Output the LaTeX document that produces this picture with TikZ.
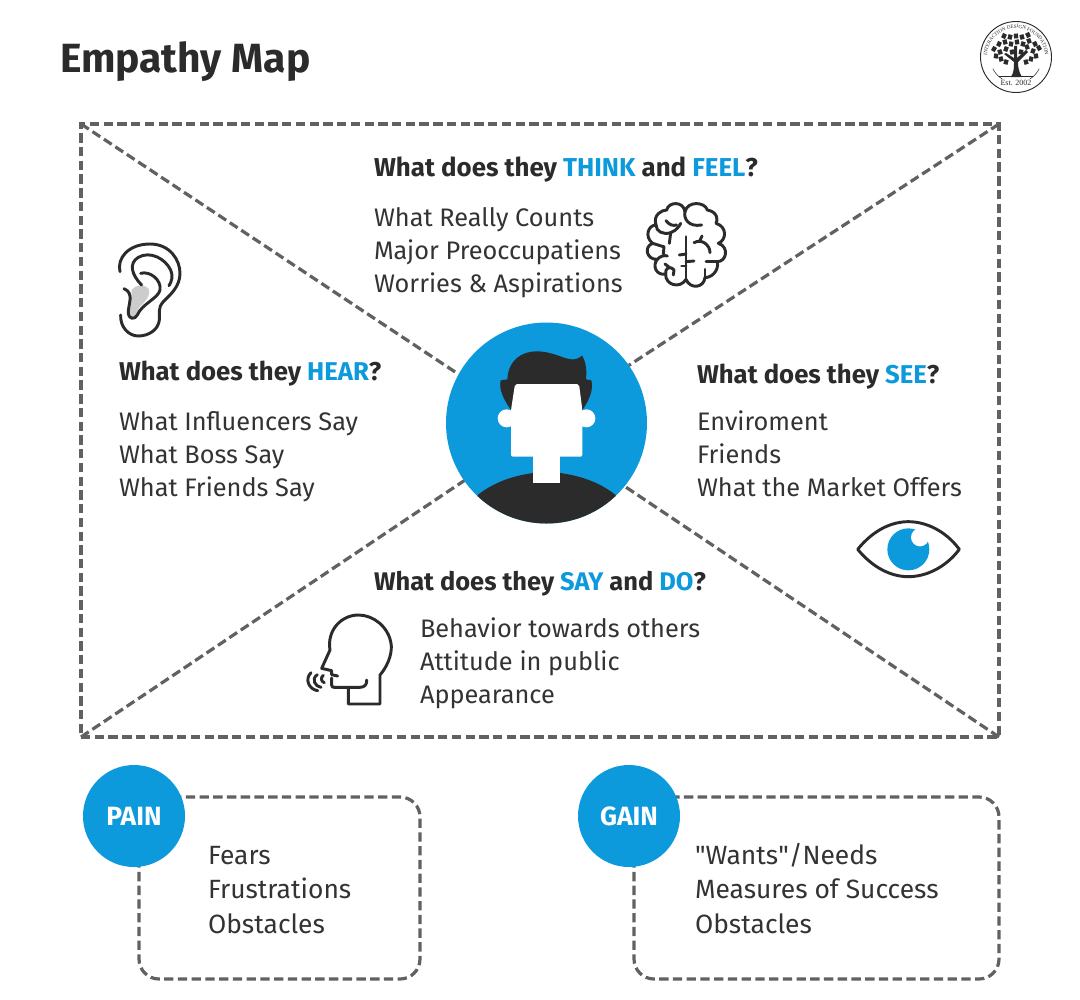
\documentclass[tikz,border=0pt]{standalone}
\usepackage{fontspec}
\setmainfont{Fira Sans}
\newfontfamily\plainfont{Fira Sans}
\newfontfamily\logofont{Liberation Serif}
\usetikzlibrary{decorations.text}
\definecolor{mapblue}{HTML}{0D9ADC}
\definecolor{mapdark}{HTML}{2B2B2B}
\definecolor{mapdash}{HTML}{616161}
\definecolor{maptext}{HTML}{333333}
\newcommand{\hl}[1]{\textcolor{mapblue}{#1}}
\tikzset{
  dashline/.style={draw=mapdash,line width=2.4pt,dash pattern=on 7pt off 3.3pt},
  headtxt/.style={anchor=base west,inner sep=0pt,outer sep=0pt,text=mapdark,font=\fontsize{19.3}{23}\selectfont\bfseries},
  bodytxt/.style={anchor=base west,inner sep=0pt,outer sep=0pt,align=left,text=maptext,font=\fontsize{19}{24.75}\selectfont},
  lowtxt/.style={bodytxt,font=\fontsize{19.8}{25.7}\selectfont},
  badge/.style={circle,fill=mapblue,minimum size=76.5pt,inner sep=0pt,outer sep=0pt,text=white,font=\fontsize{19.8}{23}\selectfont\bfseries},
  iconline/.style={draw=mapdark,line width=2.2pt,line cap=round,line join=round},
  zoomed/.style={x=0.25pt,y=-0.25pt},
}
\begin{document}
\begin{tikzpicture}[x=0.75pt,y=-0.75pt]
\useasboundingbox (0,0) rectangle (1080,999);
\fill[white] (0,0) rectangle (1080,999);

\node[headtxt,font=\fontsize{30.6}{36}\selectfont\bfseries] (title) at (60,73) {Empathy Map};

% frame and diagonals
\node[dashline,minimum width=688.5pt,minimum height=459.75pt,inner sep=0pt,outer sep=0pt] (frame) at (540,430.5) {};
\node[circle,fill=mapblue,minimum size=150.75pt,inner sep=0pt,outer sep=0pt] (avatar) at (546.5,423) {};
\draw[dashline] (frame.north west) -- (avatar.151);
\draw[dashline] (frame.north east) -- (avatar.35);
\draw[dashline] (frame.south west) -- (avatar.215);
\draw[dashline] (frame.south east) -- (avatar.-39);

% avatar
\begin{scope}
\clip (546.5,423) circle[radius=100.5];
\begin{scope}[shift={(430,310)},zoomed]
\fill[mapdark] (143,555) .. controls (200,510) and (270,490) .. (350,485) .. controls (430,490) and (500,510) .. (557,555) -- (557,700) -- (143,700) -- cycle;
\end{scope}
\end{scope}
\begin{scope}[shift={(430,310)},zoomed]
\fill[mapdark] (232,208) .. controls (235,150) and (275,124) .. (320,124) .. controls (370,124) and (405,150) .. (430,148) .. controls (442,147) and (452,142) .. (456,136) .. controls (470,160) and (470,185) .. (468,208) -- (484,211) .. controls (492,240) and (475,275) .. (457,300) -- (243,300) .. controls (225,275) and (205,240) .. (212,211) -- cycle;
\fill[white] (230,325) circle[radius=27];
\fill[white] (469,325) circle[radius=27];
\fill[white,rounded corners=1.5pt] (255,222) -- (447,222) -- (457,300) -- (457,440) -- (243,440) -- (243,300) -- cycle;
\fill[white] (310,436) rectangle (390,520);
\end{scope}

% texts of the map
\node[headtxt,font=\fontsize{19.4}{23}\selectfont\bfseries] (thinkhead) at (374,176) {What does they \hl{THINK} and \hl{FEEL}?};
\node[bodytxt] (thinkbody) at (374,292) {What Really Counts\\Major Preoccupatiens\\Worries \& Aspirations};
\node[headtxt] (hearhead) at (119,380) {What does they \hl{HEAR}?};
\node[bodytxt] (hearbody) at (119,496) {What Influencers Say\\What Boss Say\\What Friends Say};
\node[headtxt] (seehead) at (697,383) {What does they \hl{SEE}?};
\node[bodytxt] (seebody) at (697,496) {Enviroment\\Friends\\What the Market Offers};
\node[headtxt,font=\fontsize{19.1}{23}\selectfont\bfseries] (sayhead) at (374,590) {What does they \hl{SAY} and \hl{DO}?};
\node[bodytxt] (saybody) at (420,703) {Behavior towards others\\Attitude in public\\Appearance};

% ear
\begin{scope}[shift={(100,230)},x=0.25pt,y=-0.25pt]
\fill[black!20] (95,180) .. controls (105,165) and (130,160) .. (145,175) .. controls (155,195) and (135,215) .. (118,232) .. controls (108,245) and (112,262) .. (95,264) .. controls (80,262) and (80,240) .. (88,220) .. controls (95,205) and (95,190) .. (95,180) -- cycle;
\draw[iconline] (60,125) .. controls (50,85) and (85,42) .. (150,42) .. controls (210,42) and (240,90) .. (240,130) .. controls (240,170) and (210,195) .. (190,215) .. controls (172,235) and (180,250) .. (178,270) .. controls (175,300) and (145,318) .. (115,318) .. controls (85,318) and (60,290) .. (62,255);
\draw[iconline] (125,165) .. controls (95,135) and (85,100) .. (115,82) .. controls (150,62) and (195,85) .. (212,120) .. controls (220,138) and (215,155) .. (207,167);
\draw[iconline] (122,130) .. controls (150,122) and (185,150) .. (180,180) .. controls (175,205) and (125,222) .. (112,255) .. controls (105,268) and (88,270) .. (85,250) .. controls (83,225) and (105,190) .. (72,176);
\end{scope}

% brain
\begin{scope}[shift={(630,190)},x=0.25pt,y=-0.25pt]
\draw[iconline] (168,140) -- (168,268);
\draw[iconline] (168,268) .. controls (150,298) and (105,285) .. (107,252) .. controls (80,258) and (65,228) .. (82,208) .. controls (50,210) and (40,170) .. (68,160) .. controls (42,140) and (55,105) .. (78,105) .. controls (68,75) and (95,60) .. (110,60) .. controls (115,35) and (160,32) .. (165,65) .. controls (172,32) and (225,35) .. (232,60) .. controls (262,65) and (265,90) .. (258,100) .. controls (292,110) and (290,150) .. (265,160) .. controls (298,170) and (290,215) .. (262,215) .. controls (268,245) and (240,265) .. (225,262) .. controls (222,295) and (180,298) .. (168,268);
\draw[iconline] (165,65) .. controls (160,85) and (175,112) .. (215,105);
\draw[iconline] (78,105) .. controls (78,125) and (100,135) .. (122,128) .. controls (140,122) and (150,105) .. (152,100);
\draw[iconline] (108,92) .. controls (118,105) and (128,108) .. (140,105);
\draw[iconline] (122,128) -- (118,160);
\draw[iconline] (68,160) .. controls (85,165) and (98,170) .. (102,170) -- (100,192);
\draw[iconline] (82,208) .. controls (90,198) and (105,195) .. (112,198);
\draw[iconline] (107,252) .. controls (105,235) and (118,225) .. (132,240) -- (130,255);
\draw[iconline] (105,222) -- (118,232);
\draw[iconline] (148,195) -- (168,192);
\draw[iconline] (155,228) -- (168,228);
\draw[iconline] (168,215) -- (192,213);
\draw[iconline] (192,158) .. controls (215,145) and (240,165) .. (240,188);
\draw[iconline] (208,155) -- (216,138);
\draw[iconline] (228,215) -- (262,215);
\draw[iconline] (225,262) -- (225,238);
\end{scope}

% speaking head
\begin{scope}[shift={(295,600)},x=0.25pt,y=-0.25pt]
\draw[iconline] (160,262) -- (160,312) -- (255,312) -- (255,225) .. controls (285,190) and (292,150) .. (288,130) .. controls (280,80) and (235,45) .. (190,45) .. controls (140,45) and (95,90) .. (105,150) -- (80,205) -- (110,212) -- (110,224) -- (128,228);
\draw[iconline] (110,234) -- (110,255) .. controls (110,260) and (112,262) .. (118,262) -- (195,262) .. controls (210,262) and (216,252) .. (215,240);
\draw[iconline] (85,226) .. controls (76,232) and (78,245) .. (88,248);
\draw[iconline] (67,224) .. controls (48,236) and (60,260) .. (78,262);
\draw[iconline] (48,218) .. controls (28,238) and (42,268) .. (68,272);
\end{scope}

% eye
\begin{scope}[shift={(845,510)},x=0.25pt,y=-0.25pt]
\draw[iconline] (38,118) .. controls (85,60) and (140,35) .. (190,35) .. controls (240,35) and (300,60) .. (343,118) .. controls (300,175) and (240,200) .. (190,200) .. controls (140,200) and (85,175) .. (38,118) -- cycle;
\fill[mapblue] (190,118) circle[radius=63];
\fill[white] (225,82) circle[radius=27];
\end{scope}

% pain and gain
\draw[dashline,rounded corners=15pt] (139,797) rectangle (420,979);
\node[badge] (pain) at (134,816) {PAIN};
\node[lowtxt] (painbody) at (208,933) {Fears\\Frustrations\\Obstacles};
\draw[dashline,rounded corners=15pt] (634,797) rectangle (999,979);
\node[badge] (gain) at (629,816) {GAIN};
\node[lowtxt] (gainbody) at (695,933) {{\plainfont"}Wants{\plainfont"}/Needs\\Measures of Success\\Obstacles};

% logo
\draw[mapdark,line width=0.7pt] (1016,57) circle[radius=35.5];
\begin{scope}[shift={(1016,57)},x=0.75pt,y=0.75pt]
\path[decorate,decoration={text along path,text align=center,text={|\logofont\fontsize{3.8}{5}\selectfont\color{mapdark}|INTERACTION DESIGN FOUNDATION}}] (205:29) arc[start angle=205,end angle=-25,radius=29];
\draw[mapdark,line width=0.4pt] (207:26) arc[start angle=207,end angle=238,radius=26];
\draw[mapdark,line width=0.4pt] (-27:26) arc[start angle=-27,end angle=-58,radius=26];
\end{scope}
\fill[mapdark] (1011,77) .. controls (1014,72) and (1014,68) .. (1014,62) -- (1004,54) -- (1006,53) -- (1014,58) -- (1014,46) -- (1017,46) -- (1017,58) -- (1026,50) -- (1028,52) -- (1018,62) .. controls (1018,68) and (1019,72) .. (1022,77) -- cycle;
\foreach \px/\py/\pa in {996/56/-10,1001/59/15,1006/62/-15,1026/62/15,1031/59/-15,1036/56/10,994/49/-30,1000/52/20,1006/49/-20,1012/52/10,1021/52/-10,1027/47/20,1033/51/-20,1039/48/30,999/44/-25,1005/42/15,1011/44/-10,1017/42/10,1023/44/-15,1029/41/20,1035/44/25,1010/37/-15,1016/36/5,1022/37/15,1004/36/-25,1028/35/25}{
  \fill[mapdark,rotate around={\pa:(\px,\py)}] (\px-2.1,\py-2.4) rectangle (\px+2.1,\py+2.4);
}
\draw[mapdark,line width=0.4pt] (999,76.5) -- (1033,76.5);
\node[inner sep=0pt,text=mapdark,font=\logofont\fontsize{6}{7}\selectfont] (est) at (1016,83) {Est. 2002};
\end{tikzpicture}
\end{document}
